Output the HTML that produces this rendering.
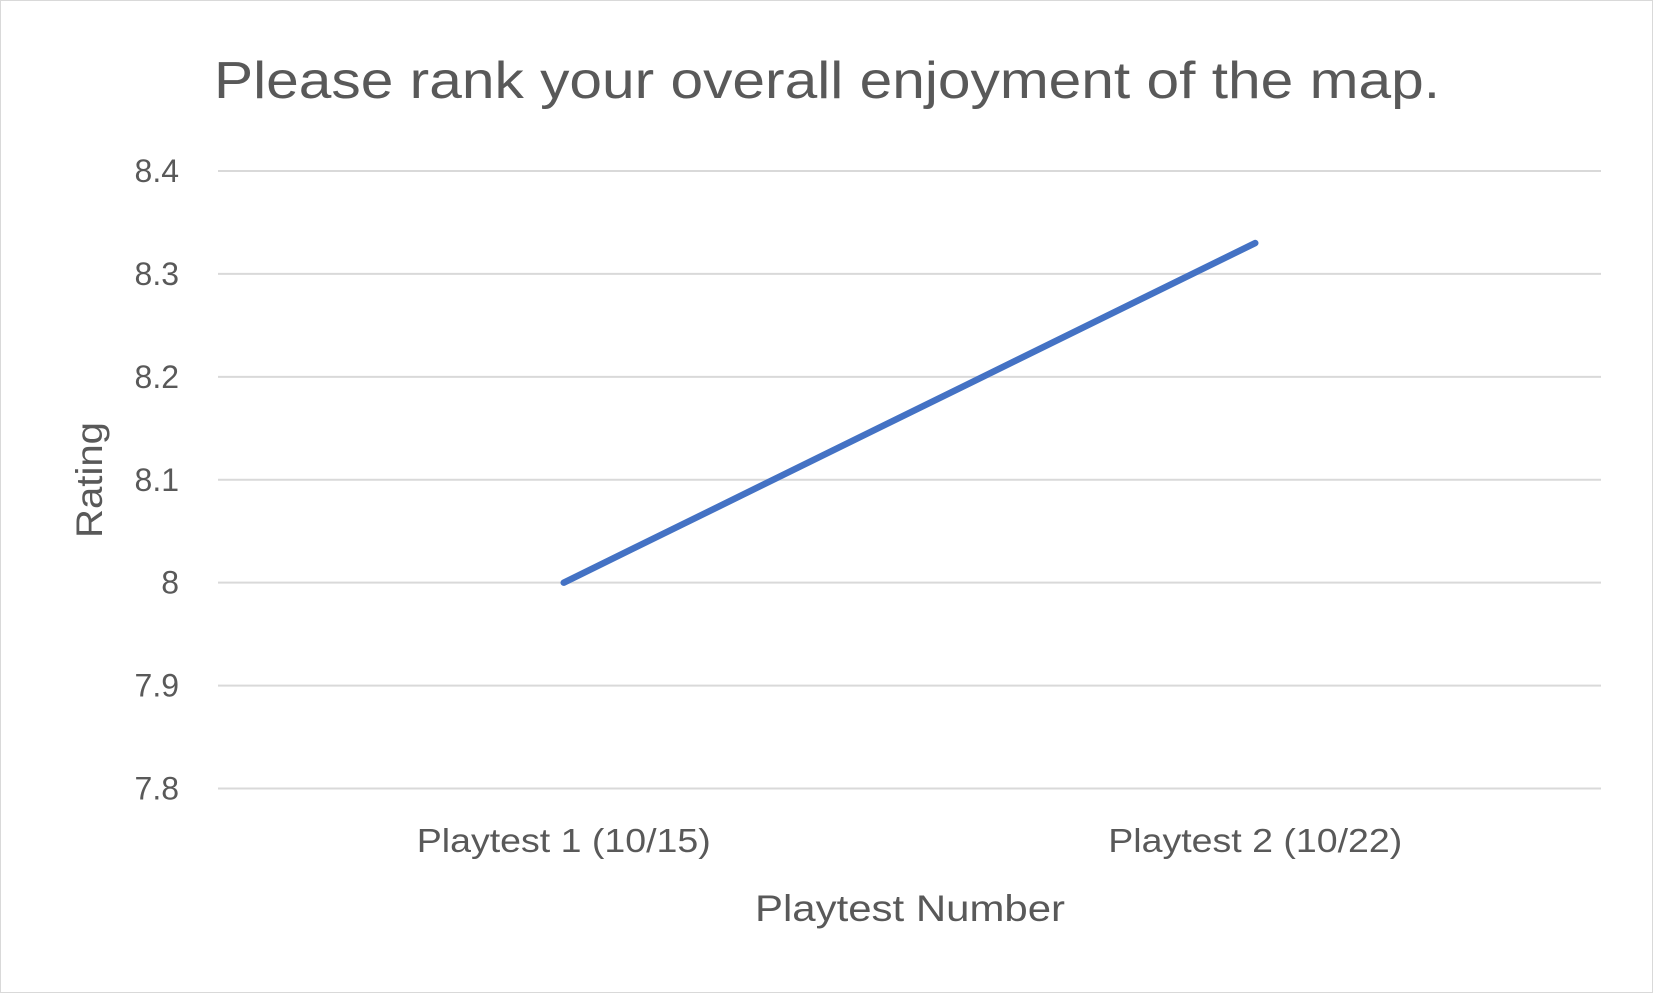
<!DOCTYPE html>
<html><head><meta charset="utf-8"><style>
html,body{margin:0;padding:0;background:#fff;}
svg{display:block;font-family:"Liberation Sans",sans-serif;}
</style></head><body>
<svg id="chart" width="1653" height="993" viewBox="0 0 1653 993">
<rect x="0.5" y="0.5" width="1652" height="992" fill="#fff" stroke="#d9d9d9"/>
<text x="214" y="98" font-size="52" fill="#595959" textLength="1226" lengthAdjust="spacingAndGlyphs">Please rank your overall enjoyment of the map.</text>
<g id="grid"></g><g id="yticks"></g><g id="xticks"></g><g id="series"></g>
<text x="910" y="921" font-size="37" fill="#595959" text-anchor="middle" textLength="310" lengthAdjust="spacingAndGlyphs">Playtest Number</text>
<text transform="translate(102,480) rotate(-90)" font-size="37" fill="#595959" text-anchor="middle" textLength="116" lengthAdjust="spacingAndGlyphs">Rating</text>
</svg>
<script>
const categories = ["Playtest 1 (10/15)", "Playtest 2 (10/22)"];
const ratings = [8.0, 8.33];
const yTicks = [7.8, 7.9, 8.0, 8.1, 8.2, 8.3, 8.4];
const yTickLabels = ["7.8", "7.9", "8", "8.1", "8.2", "8.3", "8.4"];
const NS = "http://www.w3.org/2000/svg";
const plotLeft = 218, plotRight = 1601, plotTop = 171, plotBottom = 788.5;
const yMin = 7.8, yMax = 8.4;
function yScale(v){ return plotBottom - (v - yMin) / (yMax - yMin) * (plotBottom - plotTop); }
function xScale(i){ const w = (plotRight - plotLeft) / categories.length; return plotLeft + w * (i + 0.5); }
function mk(tag, attrs, parent){ const e = document.createElementNS(NS, tag); for (const k in attrs) e.setAttribute(k, attrs[k]); document.getElementById(parent).appendChild(e); return e; }
yTicks.forEach((t, i) => {
  const g = mk("line", {x1: plotLeft, x2: plotRight, y1: yScale(t), y2: yScale(t), stroke: "#d9d9d9", "stroke-width": 2}, "grid");
  
  
  const l = mk("text", {x: 179, y: yScale(t) + 11, "font-size": 32, fill: "#595959", "text-anchor": "end"}, "yticks");
  l.textContent = yTickLabels[i];
  
  
});
categories.forEach((c, i) => {
  const l = mk("text", {x: xScale(i), y: 852, "font-size": 33, fill: "#595959", "text-anchor": "middle", textLength: 294, lengthAdjust: "spacingAndGlyphs"}, "xticks");
  l.textContent = c;
  
  
});
const pts = ratings.map((v, i) => xScale(i) + "," + yScale(v)).join(" ");
const line = mk("polyline", {points: pts, fill: "none", stroke: "#4472c4", "stroke-width": 6.5, "stroke-linecap": "round", "stroke-linejoin": "round"}, "series");


</script>
</body></html>
